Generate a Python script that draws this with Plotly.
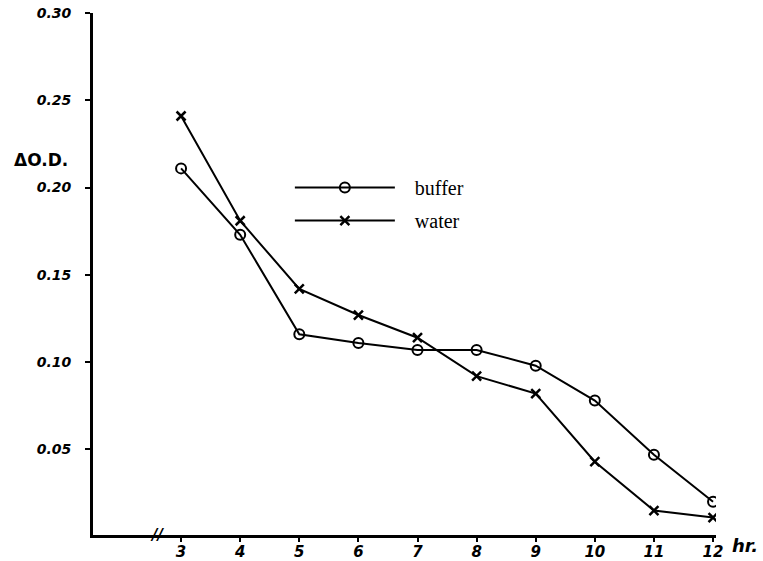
import plotly.graph_objects as go

hours = [3, 4, 5, 6, 7, 8, 9, 10, 11, 12]
buffer_od = [0.211, 0.173, 0.116, 0.111, 0.107, 0.107, 0.098, 0.078, 0.047, 0.020]
water_od = [0.241, 0.181, 0.142, 0.127, 0.114, 0.092, 0.082, 0.043, 0.015, 0.011]
x_tick_vals = [3, 4, 5, 6, 7, 8, 9, 10, 11, 12]
x_tick_text = ["3", "4", "5", "6", "7", "8", "9", "10", "11", "12"]
y_tick_vals = [0.05, 0.10, 0.15, 0.20, 0.25, 0.30]
y_tick_text = ["0.05", "0.10", "0.15", "0.20", "0.25", "0.30"]

hand_font = dict(family="DejaVu Sans", size=14, color="black", weight="bold", style="italic")
nb = "\u00a0\u00a0\u00a0"

fig = go.Figure()
fig.add_trace(go.Scatter(
    x=hours, y=buffer_od, name=nb + "buffer", mode="lines+markers", legendgroup="a",
    line=dict(color="black", width=2),
    marker=dict(symbol="circle-open", size=10, color="black", line=dict(width=2, color="black")),
))
fig.add_trace(go.Scatter(
    x=hours, y=water_od, name=nb + "water", mode="lines+markers", legendgroup="b",
    line=dict(color="black", width=2),
    marker=dict(symbol="x-thin", size=9, color="black", line=dict(width=2.5, color="black")),
))

fig.update_layout(
    width=763, height=561,
    margin=dict(l=93, r=47, t=13, b=26),
    paper_bgcolor="white", plot_bgcolor="white",
    showlegend=True,
    legend=dict(
        x=0.316, y=0.703, xanchor="left", yanchor="top",
        font=dict(family="Liberation Serif", size=20, color="black"),
        itemwidth=100, tracegroupgap=4, bgcolor="rgba(0,0,0,0)",
    ),
    xaxis=dict(
        range=[1.51, 12.05], showgrid=False, zeroline=False, automargin=False,
        showline=True, linewidth=3, linecolor="black",
        tickmode="array", tickvals=x_tick_vals, ticktext=x_tick_text,
        ticks="outside", ticklen=4, tickwidth=2, tickcolor="black",
        tickfont=dict(hand_font, size=15), ticklabelstandoff=-3,
    ),
    yaxis=dict(
        range=[0.001, 0.30], showgrid=False, zeroline=False, automargin=False,
        showline=True, linewidth=3, linecolor="black",
        tickmode="array", tickvals=y_tick_vals, ticktext=y_tick_text,
        ticks="outside", ticklen=5, tickwidth=2, tickcolor="black",
        tickfont=hand_font, ticklabelstandoff=11,
    ),
    annotations=[
        dict(text="ΔO.D.", xref="paper", yref="y", x=-0.13, y=0.216,
             xanchor="left", yanchor="middle", showarrow=False,
             font=dict(family="DejaVu Sans", size=17, color="black", weight="bold")),
        dict(text="hr.", xref="paper", yref="paper", x=1.022, y=0.0,
             xanchor="left", yanchor="middle", yshift=-10, showarrow=False,
             font=dict(family="DejaVu Sans", size=18, color="black", weight="bold", style="italic")),
        dict(text="//", xref="x", yref="y", x=2.59, y=0.001,
             xanchor="center", yanchor="middle", showarrow=False,
             font=dict(family="DejaVu Sans", size=15, color="black", weight="bold", style="italic")),
    ],
)

fig.write_html("out.html")
